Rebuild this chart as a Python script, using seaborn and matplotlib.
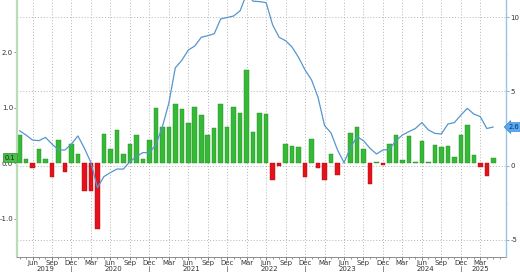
import numpy as np
import pandas as pd
import matplotlib
matplotlib.use("Agg")
import matplotlib.pyplot as plt
import matplotlib.transforms as mtransforms
from matplotlib.ticker import MultipleLocator
import seaborn as sns

# ---- data (Apr 2019 .. May 2025, monthly) ----
start_month = "2019-04-01"
mom = [0.51, 0.07, -0.08, 0.26, 0.08, -0.24, 0.42, -0.16, 0.35,
       0.17, -0.50, -0.50, -1.19, 0.52, 0.26, 0.60, 0.17, 0.34, 0.50, 0.08, 0.42,
       1.00, 0.66, 0.66, 1.06, 0.97, 0.72, 1.02, 0.86, 0.51, 0.63, 1.06, 0.65,
       1.01, 0.91, 1.68, 0.56, 0.91, 0.88, -0.30, -0.05, 0.34, 0.31, 0.30, -0.25,
       0.43, -0.08, -0.31, 0.17, -0.21, 0.01, 0.55, 0.65, 0.26, -0.37, 0.03, -0.03,
       0.35, 0.50, 0.05, 0.49, 0.02, 0.40, 0.02, 0.33, 0.30, 0.31, 0.11, 0.50,
       0.69, 0.15, -0.07, -0.23, 0.10]
yoy = [2.35, 2.06, 1.72, 1.68, 1.90, 1.45, 1.05, 1.05, 1.45,
       2.00, 1.16, 0.20, -1.50, -0.75, -0.48, -0.24, -0.24, 0.26, 0.60, 0.87, 0.87,
       1.39, 2.60, 4.20, 6.60, 7.10, 7.80, 8.07, 8.66, 8.77, 8.90, 9.90, 10.00,
       10.10, 10.46, 11.60, 11.10, 11.07, 11.00, 9.50, 8.66, 8.43, 8.00, 7.30, 6.45,
       5.78, 4.60, 2.70, 2.20, 1.05, 0.20, 1.20, 1.95, 1.68, 1.16, 0.78, 1.05,
       1.09, 1.68, 2.06, 2.29, 2.50, 2.90, 2.40, 2.17, 2.13, 2.80, 2.90, 3.40,
       3.86, 3.48, 3.30, 2.50, 2.60]
left_ticks = [-1.0, 0.0, 1.0, 2.0]
left_tick_labels = ["-1.0", "0.0", "1.0", "2.0"]
right_ticks = [-5, 0, 5, 10]
right_tick_labels = ["-5", "0", "5", "10"]
last_mom_label = "0.1"
last_yoy_label = "2.6"

# ---- layout constants ----
W, H = 520, 272
L_LIM = (-1.69, 2.94)
R_LIM = (-6.18, 11.18)
X_LIM = (-0.39, 74.96)
FS = 5.0

dates = pd.date_range(start_month, periods=len(mom), freq="MS")
df = pd.DataFrame({"idx": np.arange(len(mom)), "mom": mom, "yoy": yoy})
df["sign"] = np.where(df["mom"] >= 0, "pos", "neg")

sns.set_theme(style="ticks")
plt.rcParams['font.family'] = ['DejaVu Sans']

fig = plt.figure(figsize=(W / 100, H / 100), dpi=100)
ax = fig.add_axes([17 / W, 15 / H, (506 - 17) / W, 257 / H])

GREEN, GREEN_E = "#36b936", "#1f8a1f"
RED, RED_E = "#e5121b", "#a50c12"
sns.barplot(data=df, x="idx", y="mom", hue="sign",
            palette={"pos": GREEN, "neg": RED}, native_scale=True,
            width=0.7, dodge=False, legend=False, ax=ax, linewidth=0.3,
            saturation=1)
for p in ax.patches:
    fc = matplotlib.colors.to_hex(p.get_facecolor())
    p.set_edgecolor(GREEN_E if fc == GREEN else RED_E)

ax.set_xlim(*X_LIM)
ax.set_ylim(*L_LIM)

# horizontal grid at right-axis ticks (drawn on the bar axis so it sits below)
for r in right_ticks:
    lv = L_LIM[0] + (r - R_LIM[0]) * (L_LIM[1] - L_LIM[0]) / (R_LIM[1] - R_LIM[0])
    ax.axhline(lv, ls=(0, (1, 2)), color="#b4b4b4", lw=0.7, zorder=0)

# x ticks: quarterly labels, monthly minor ticks
month_nums = dates.month
q_idx = [i for i, m in enumerate(month_nums) if m in (3, 6, 9, 12)]
q_lab = [dates[i].strftime("%b") for i in q_idx]
ax.set_xticks(q_idx)
ax.set_xticklabels(q_lab, fontsize=FS, color="#333333")
ax.xaxis.set_minor_locator(MultipleLocator(1))
ax.grid(axis="x", ls=(0, (1, 2)), color="#b4b4b4", lw=0.7)
ax.set_axisbelow(True)
ax.tick_params(axis="x", which="major", length=2, width=0.6, pad=0.3, color="#666666")
ax.tick_params(axis="x", which="minor", length=1.5, width=0.5, color="#666666")

ax.set_yticks(left_ticks)
ax.set_yticklabels(left_tick_labels, fontsize=FS, color="#333333")
ax.yaxis.set_minor_locator(MultipleLocator(0.5))
ax.tick_params(axis="y", which="major", length=2, width=0.6, pad=0.8, color="#5a9a5a")
ax.tick_params(axis="y", which="minor", length=1, width=0.5, color="#8ab88a")
ax.set_xlabel("")
ax.set_ylabel("")

for s in ("top", "right"):
    ax.spines[s].set_visible(False)
ax.spines["left"].set_color("#b9dcb9")
ax.spines["left"].set_linewidth(1.6)
ax.spines["bottom"].set_color("#8c8c8c")
ax.spines["bottom"].set_linewidth(0.7)

# year labels and separators
trans = mtransforms.blended_transform_factory(ax.transData, ax.transAxes)
for yr in sorted(set(dates.year)):
    ids = [i for i, d in enumerate(dates) if d.year == yr]
    ax.text(np.mean(ids), -9.0 / 257, str(yr), transform=trans, ha="center",
            va="top", fontsize=FS, color="#333333", clip_on=False)
for i, m in enumerate(month_nums):
    if m == 12:
        ax.plot([i, i], [-8.5 / 257, -16 / 257], transform=trans, color="#777777",
                lw=0.6, clip_on=False)

# ---- YoY line on right axis ----
ax2 = ax.twinx()
sns.lineplot(data=df, x="idx", y="yoy", ax=ax2, color="#5596cd", linewidth=0.9)
ax2.set_ylim(*R_LIM)
ax2.set_xlim(*X_LIM)
ax2.set_yticks(right_ticks)
ax2.set_yticklabels(right_tick_labels, fontsize=FS, color="#333333")
ax2.yaxis.set_minor_locator(MultipleLocator(2.5))
ax2.tick_params(axis="y", which="major", length=2, width=0.6, pad=1, color="#6fa3d3")
ax2.tick_params(axis="y", which="minor", length=1, width=0.5, color="#9cc3e6")
ax2.set_ylabel("")
ax2.set_xlabel("")
for s in ("top", "left", "bottom"):
    ax2.spines[s].set_visible(False)
ax2.spines["right"].set_color("#9cc3e6")
ax2.spines["right"].set_linewidth(1.0)

# last-value tags
tl = mtransforms.blended_transform_factory(ax.transAxes, ax.transData)
ax.text(-0.004, mom[-1], last_mom_label, transform=tl, ha="right", va="center",
        fontsize=4.8, color="#103010", clip_on=False,
        bbox=dict(boxstyle="square,pad=0.25", fc="#4cbc4c", ec="#2a8a2a", lw=0.5))
tr = mtransforms.blended_transform_factory(ax2.transAxes, ax2.transData)
ax2.text(1.006, yoy[-1], last_yoy_label, transform=tr, ha="left", va="center",
         fontsize=4.8, color="#0c2f66", clip_on=False,
         bbox=dict(boxstyle="larrow,pad=0.2", fc="#5aa8ee", ec="#3a88d0", lw=0.5))

fig.savefig("out.png", dpi=100)
